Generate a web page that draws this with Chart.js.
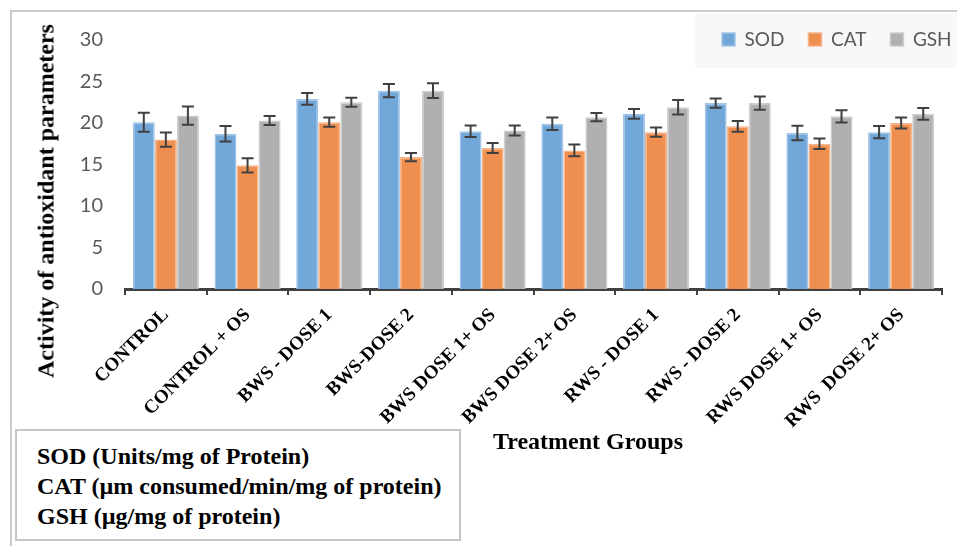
<!DOCTYPE html>
<html>
<head>
<meta charset="utf-8">
<script src="https://cdn.jsdelivr.net/npm/chart.js@4.4.1/dist/chart.umd.min.js"></script>
<style>
  html, body { margin: 0; padding: 0; background: #fff; }
  #wrap { position: relative; width: 957px; height: 546px; overflow: hidden; }
  #frame { position: absolute; left: 10px; top: 10px; width: 1000px; height: 600px;
           border-top: 2px solid #cbcbcb; border-left: 2px solid #cbcbcb; }
  #chart { position: absolute; left: 0; top: 0; }
  .serif { font-family: 'Liberation Serif', 'Times New Roman', serif; font-weight: bold; color: #000; white-space: nowrap; }
  #ytitle { position: absolute; left: 46px; top: 201px; font-size: 24px;
            transform: translate(-50%, -50%) rotate(-90deg); }
  #xtitle { position: absolute; left: 493px; top: 428px; font-size: 24px; }
  #units { position: absolute; left: 15px; top: 429px; width: 446px; height: 112px;
           border: 2px solid #c6c6c6; padding: 10px 0 0 20px; box-sizing: border-box;
           font-size: 24px; line-height: 30px; background: #fff; }
</style>
</head>
<body>
<div id="wrap">
  <div id="frame"></div>
  <canvas id="chart" width="957" height="546"></canvas>
  <div id="ytitle" class="serif">Activity of antioxidant parameters</div>
  <div id="xtitle" class="serif">Treatment Groups</div>
  <div id="units" class="serif">
    SOD (Units/mg of Protein)<br>
    CAT (µm consumed/min/mg of protein)<br>
    GSH (µg/mg of protein)
  </div>
</div>
<script>
const groups = ['CONTROL', 'CONTROL + OS', 'BWS - DOSE 1', 'BWS-DOSE 2', 'BWS DOSE 1+ OS',
  'BWS DOSE 2+ OS', 'RWS - DOSE 1', 'RWS - DOSE 2', 'RWS DOSE 1+ OS', 'RWS  DOSE 2+ OS'];

const sod = [20.1, 18.7, 22.9, 23.9, 19.0, 19.9, 21.1, 22.4, 18.8, 18.9];
const cat = [18.0, 14.9, 20.1, 15.9, 17.0, 16.7, 18.9, 19.6, 17.5, 20.0];
const gsh = [20.9, 20.3, 22.5, 23.9, 19.1, 20.7, 21.9, 22.4, 20.8, 21.1];

const sodErr = [1.15, 0.93, 0.7, 0.8, 0.7, 0.75, 0.6, 0.55, 0.87, 0.73];
const catErr = [0.85, 0.85, 0.55, 0.5, 0.6, 0.7, 0.55, 0.65, 0.63, 0.67];
const gshErr = [1.1, 0.55, 0.55, 0.9, 0.6, 0.5, 0.87, 0.8, 0.73, 0.7];

const yTicks = [0, 5, 10, 15, 20, 25, 30];

// error bars drawn from the err arrays through the y scale
const errorBars = {
  id: 'errorBars',
  afterDatasetsDraw(chart) {
    const c = chart.ctx;
    const y = chart.scales.y;
    c.save();
    c.strokeStyle = '#404040';
    c.lineWidth = 2;
    chart.data.datasets.forEach((ds, i) => {
      chart.getDatasetMeta(i).data.forEach((bar, j) => {
        const v = ds.data[j], e = ds.err[j];
        const top = y.getPixelForValue(v + e);
        const bot = y.getPixelForValue(v - e);
        c.beginPath();
        c.moveTo(bar.x, top); c.lineTo(bar.x, bot);
        c.moveTo(bar.x - 6, top); c.lineTo(bar.x + 6, top);
        c.moveTo(bar.x - 6, bot); c.lineTo(bar.x + 6, bot);
        c.stroke();
      });
    });
    c.restore();
  }
};

// legend takes no layout room; move it into the top right grey box
const legendBox = {
  id: 'legendBox',
  afterLayout(chart) {
    const lg = chart.legend;
    lg.left = 698; lg.right = 1300; lg.width = lg.right - lg.left;
    lg.top = 6; lg.bottom = 68; lg.height = lg.bottom - lg.top;
  },
  beforeDraw(chart) {
    const c = chart.ctx;
    c.save();
    c.fillStyle = '#f8f8f8';
    c.fillRect(695, 13, 262, 55);
    c.restore();
  }
};

const ctx = document.getElementById('chart').getContext('2d');

new Chart(ctx, {
  type: 'bar',
  data: {
    labels: groups,
    datasets: [
      { label: 'SOD', data: sod, err: sodErr, backgroundColor: '#72a7d9', borderColor: '#a3c6e8', borderWidth: 1.5 },
      { label: 'CAT', data: cat, err: catErr, backgroundColor: '#ef8f4f', borderColor: '#f5b489', borderWidth: 1.5 },
      { label: 'GSH', data: gsh, err: gshErr, backgroundColor: '#b0b0b0', borderColor: '#cdcdcd', borderWidth: 1.5 }
    ]
  },
  options: {
    responsive: false,
    animation: false,
    categoryPercentage: 0.81,
    barPercentage: 1.0,
    layout: { padding: { left: 0, top: 39, right: 15, bottom: 0 } },
    plugins: {
      tooltip: { enabled: false },
      legend: {
        position: 'top',
        align: 'start',
        maxHeight: 1,
        labels: {
          boxWidth: 13,
          boxHeight: 13,
          padding: 24,
          color: '#595959',
          font: { family: 'Lato', size: 19 }
        }
      }
    },
    scales: {
      x: {
        afterFit: s => { s.height = 257; },
        grid: { display: true, drawOnChartArea: false, drawTicks: true, tickLength: 6, color: '#404040', lineWidth: 2 },
        border: { display: true, color: '#404040', width: 3 },
        ticks: {
          autoSkip: false,
          minRotation: 45,
          maxRotation: 45,
          padding: 9,
          color: '#000',
          font: { family: 'Liberation Serif', size: 19, weight: 'bold' }
        }
      },
      y: {
        min: 0,
        max: 30,
        afterFit: s => { s.width = 125; },
        afterBuildTicks: s => { s.ticks = yTicks.map(v => ({ value: v })); },
        grid: { display: false, drawTicks: false },
        border: { display: false },
        ticks: {
          padding: 22,
          color: '#595959',
          font: { family: 'Lato', size: 20 }
        }
      }
    }
  },
  plugins: [errorBars, legendBox]
});
</script>
</body>
</html>
